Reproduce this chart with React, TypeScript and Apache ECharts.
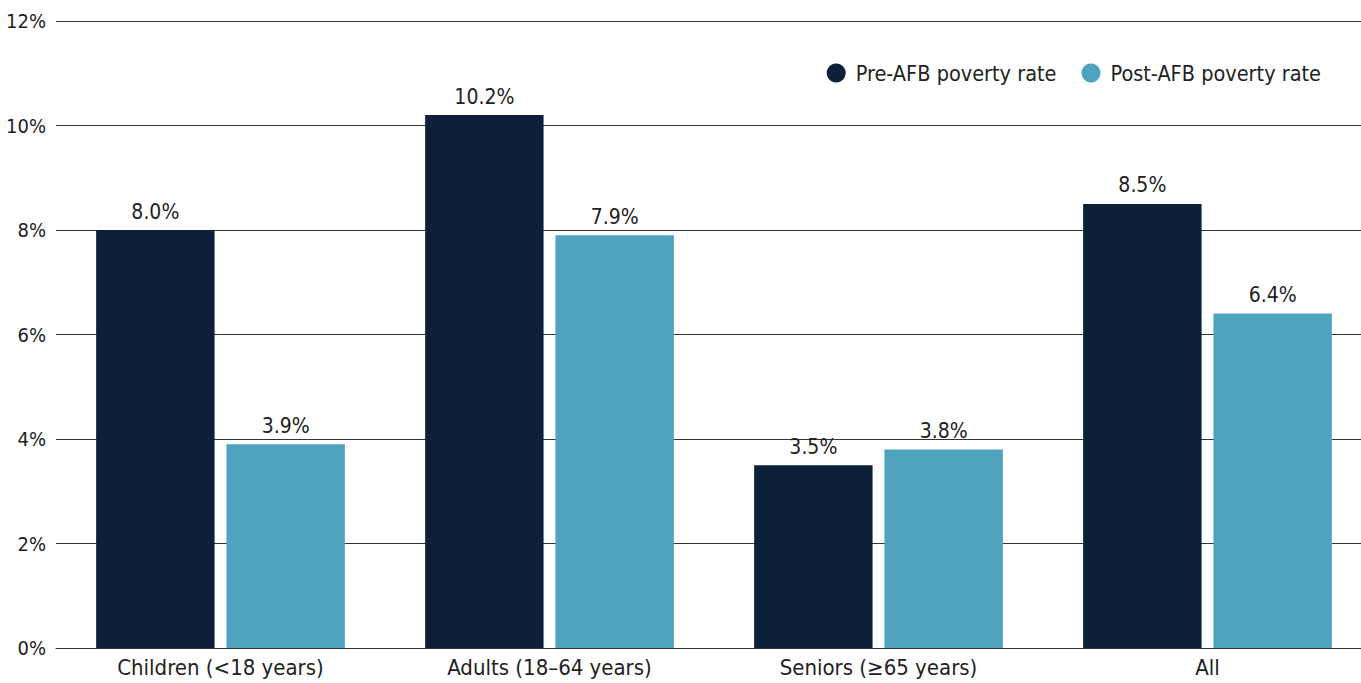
import React, { useEffect, useRef } from "react";
import * as echarts from "echarts";

const categories = ["Children (<18 years)", "Adults (18–64 years)", "Seniors (≥65 years)", "All"];
const preAFB = [8.0, 10.2, 3.5, 8.5];
const postAFB = [3.9, 7.9, 3.8, 6.4];
const seriesNames = ["Pre-AFB poverty rate", "Post-AFB poverty rate"];
const colors = ["#0c2038", "#4fa3bf"];
const FONT = "'DejaVu Sans Condensed', 'Liberation Sans Narrow', sans-serif";

export default function App() {
  const ref = useRef<HTMLDivElement>(null);
  useEffect(() => {
    if (!ref.current) return;
    const chart = echarts.init(ref.current, null, { renderer: "svg" });
    const label = {
      show: true,
      position: "top" as const,
      distance: 8,
      color: "#222",
      fontFamily: FONT,
      fontSize: 21,
      formatter: (p: any) => p.value.toFixed(1) + "%",
    };
    chart.setOption({
      animation: false,
      textStyle: { fontFamily: FONT },
      legend: {
        top: 57,
        right: 46,
        itemWidth: 19,
        itemHeight: 19,
        itemGap: 25,
        icon: "circle",
        textStyle: { fontFamily: FONT, fontSize: 21.5, color: "#222", padding: [0, 0, 0, 5] },
        data: seriesNames,
      },
      grid: { left: 56, right: 0, top: 21, bottom: 35, containLabel: false },
      xAxis: {
        type: "category",
        data: categories,
        axisLine: { show: true, lineStyle: { color: "#333", width: 1 } },
        axisTick: { show: false },
        axisLabel: { fontFamily: FONT, fontSize: 22, color: "#222", margin: 8 },
      },
      yAxis: {
        type: "value",
        min: 0,
        max: 12,
        interval: 2,
        axisLine: { show: false },
        axisTick: { show: false },
        splitLine: { lineStyle: { color: "#333", width: 1 } },
        axisLabel: { fontFamily: FONT, fontSize: 20, color: "#222", margin: 10, formatter: "{value}%" },
      },
      series: [
        {
          name: seriesNames[0],
          type: "bar",
          data: preAFB,
          barWidth: "36%",
          barGap: "10%",
          itemStyle: { color: colors[0] },
          label,
        },
        {
          name: seriesNames[1],
          type: "bar",
          data: postAFB,
          barWidth: "36%",
          itemStyle: { color: colors[1] },
          label,
        },
      ],
    });
    return () => chart.dispose();
  }, []);
  return (
    <div style={{ position: "absolute", left: 0, top: 0, width: 1361, height: 683, overflow: "hidden" }}>
      <div ref={ref} style={{ width: 1372, height: 683 }} />
    </div>
  );
}
